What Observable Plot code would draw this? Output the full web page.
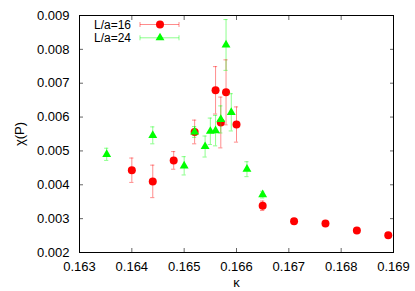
<!DOCTYPE html>
<html><head><meta charset="utf-8">
<script src="https://cdn.jsdelivr.net/npm/d3@7"></script>
<script src="https://cdn.jsdelivr.net/npm/@observablehq/plot@0.6"></script>
<style>body{margin:0;background:#fff;}</style>
</head><body><div id="chart"></div>
<script>
// L/a=16 series
const kappa16 = [0.1640, 0.1644, 0.1648, 0.1652, 0.1656, 0.1657, 0.1658, 0.1660, 0.1665, 0.1671, 0.1677, 0.1683, 0.1689];
const chi16   = [0.00443, 0.00410, 0.00472, 0.00556, 0.00679, 0.00584, 0.00673, 0.00578, 0.00338, 0.00292, 0.00286, 0.00265, 0.00251];
const err16   = [0.00036, 0.00048, 0.00026, 0.00035, 0.00070, 0.00075, 0.00096, 0.00052, 0.00014, 0.00004, 0.00004, 0.00004, 0.00004];
// L/a=24 series
const kappa24 = [0.16352, 0.1644, 0.1650, 0.1652, 0.1654, 0.1655, 0.1656, 0.1657, 0.1658, 0.1659, 0.1662, 0.1665];
const chi24   = [0.00490, 0.00546, 0.00456, 0.00556, 0.00513, 0.00558, 0.00560, 0.00593, 0.00813, 0.00614, 0.00446, 0.00371];
const err24   = [0.00018, 0.00025, 0.00027, 0.00016, 0.00031, 0.00039, 0.00045, 0.00040, 0.00075, 0.00055, 0.00022, 0.00010];

const xTicks = [0.163, 0.164, 0.165, 0.166, 0.167, 0.168, 0.169];
const yTicks = [0.002, 0.003, 0.004, 0.005, 0.006, 0.007, 0.008, 0.009];
const seriesNames = ["L/a=16", "L/a=24"];

const d16 = kappa16.map((k, i) => ({k, v: chi16[i], e: err16[i]}));
const d24 = kappa24.map((k, i) => ({k, v: chi24[i], e: err24[i]}));

const RED = "#ff0000", GREEN = "#00ff00";
const BAR_OP = 0.45;
const CAP = 0.00004;
const fmt = d3.format(".3f");

function errMarks(data, color) {
  return [
    Plot.ruleX(data, {x: "k", y1: d => d.v - d.e, y2: d => d.v + d.e, stroke: color, strokeOpacity: BAR_OP}),
    Plot.ruleY(data, {y: d => d.v - d.e, x1: d => d.k - CAP, x2: d => d.k + CAP, stroke: color, strokeOpacity: BAR_OP}),
    Plot.ruleY(data, {y: d => d.v + d.e, x1: d => d.k - CAP, x2: d => d.k + CAP, stroke: color, strokeOpacity: BAR_OP})
  ];
}

const plot = Plot.plot({
  width: 415, height: 291,
  marginLeft: 79, marginRight: 22, marginTop: 15, marginBottom: 39,
  style: {fontFamily: "'Liberation Sans', Arial, sans-serif", fontSize: "13px", background: "#fff", color: "#000"},
  x: {domain: [0.163, 0.169]},
  y: {domain: [0.002, 0.009]},
  marks: [
    Plot.axisX(xTicks, {anchor: "bottom", tickSize: 0, tickPadding: 9, tickFormat: fmt, fontSize: 13, label: "κ", labelAnchor: "center", labelArrow: "none", labelOffset: 34}),
    Plot.axisX(xTicks, {anchor: "bottom", tickSize: -4, tickFormat: () => "", label: null, stroke: "#666"}),
    Plot.axisX(xTicks, {anchor: "top", tickSize: -4, tickFormat: () => "", label: null, stroke: "#666"}),
    Plot.axisY(yTicks, {anchor: "left", tickSize: 0, tickPadding: 10, tickFormat: fmt, fontSize: 13, label: "χ(P)", labelAnchor: "center", labelArrow: "none", labelOffset: 65}),
    Plot.axisY(yTicks, {anchor: "left", tickSize: -4, tickFormat: () => "", label: null, stroke: "#666"}),
    Plot.axisY(yTicks, {anchor: "right", tickSize: -4, tickFormat: () => "", label: null, stroke: "#666"}),
    ...errMarks(d16, RED),
    Plot.dot(d16, {x: "k", y: "v", r: 4, fill: RED, symbol: "circle"}),
    ...errMarks(d24, GREEN),
    Plot.dot(d24, {x: "k", y: "v", r: 3.3, fill: GREEN, symbol: "triangle"}),
    Plot.frame({stroke: "#000"})
  ]
});

// Legend inside the frame (top-left), gnuplot style
const svg = d3.select(plot);
const lg = svg.append("g").attr("font-family", "'Liberation Sans', Arial, sans-serif").attr("font-size", 12).attr("text-anchor", "start");
const legendItems = [
  {name: seriesNames[0], color: RED, sym: d3.symbolCircle, r: 4, y: 24.5},
  {name: seriesNames[1], color: GREEN, sym: d3.symbolTriangle, r: 3.3, y: 37.8}
];
for (const it of legendItems) {
  lg.append("text").attr("x", 94).attr("y", it.y).attr("dy", "0.35em").attr("fill", "#000").attr("text-anchor", "start").text(it.name);
  lg.append("line").attr("x1", 140).attr("x2", 179).attr("y1", it.y).attr("y2", it.y)
    .attr("stroke", it.color).attr("stroke-opacity", BAR_OP);
  for (const xe of [140, 179]) {
    lg.append("line").attr("x1", xe).attr("x2", xe).attr("y1", it.y - 2.5).attr("y2", it.y + 2.5)
      .attr("stroke", it.color).attr("stroke-opacity", BAR_OP);
  }
  lg.append("path").attr("transform", `translate(160,${it.y})`)
    .attr("d", d3.symbol(it.sym, Math.PI * it.r * it.r)()).attr("fill", it.color);
}

document.getElementById("chart").appendChild(plot);
</script>
</body></html>
